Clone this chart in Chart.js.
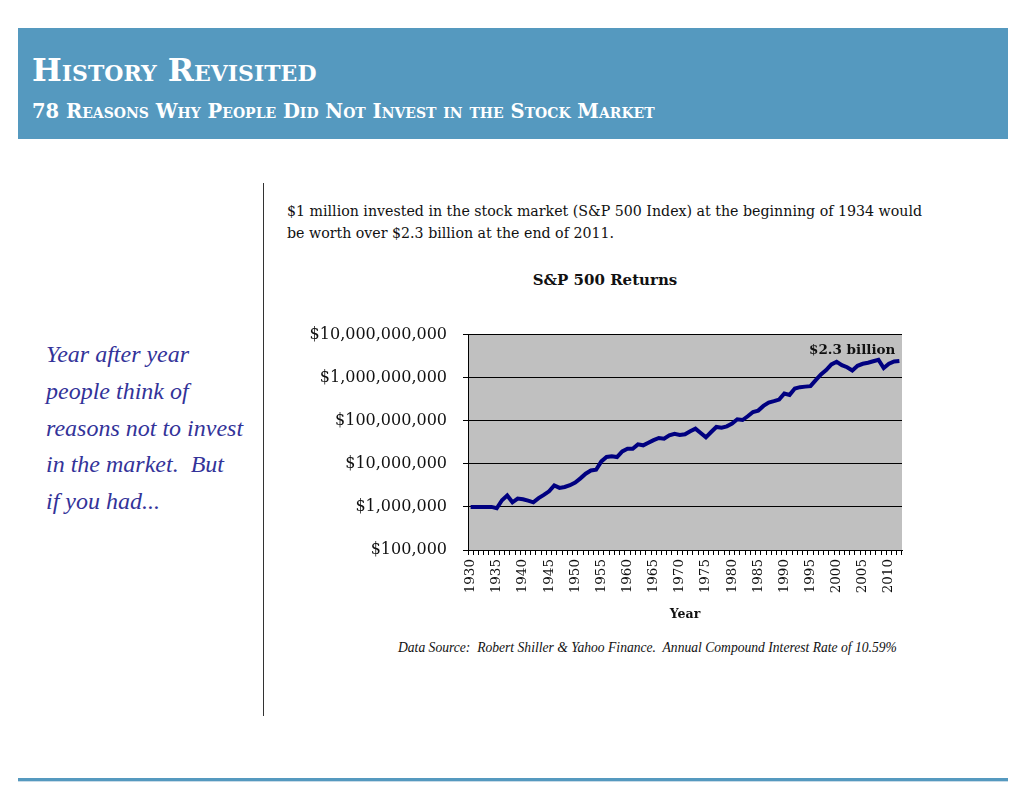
<!DOCTYPE html>
<html>
<head>
<meta charset="utf-8">
<script src="https://cdn.jsdelivr.net/npm/chart.js@4.4.0/dist/chart.umd.min.js"></script>
<style>
  body { margin: 0; background: #fff; width: 1031px; height: 794px; position: relative; overflow: hidden; font-family: "Liberation Serif", serif; }
  .band { position: absolute; left: 18px; top: 28px; width: 990px; height: 111px; background: #5599bf; }
  .title { position: absolute; left: 14px; top: 23px; color: #fff; font-family: "DejaVu Serif", serif; font-weight: bold; font-variant: small-caps; font-size: 31.5px; }
  .subtitle { position: absolute; left: 14px; top: 72px; color: #fff; font-family: "DejaVu Serif", serif; font-weight: bold; font-variant: small-caps; font-size: 19.5px; }
  .vline { position: absolute; left: 263px; top: 183px; width: 1px; height: 533px; background: #333; }
  .intro { position: absolute; left: 287px; top: 200px; width: 650px; font-family: "DejaVu Serif", serif; font-size: 14.2px; line-height: 22px; color: #111; }
  .ctitle { position: absolute; left: 480px; width: 250px; top: 271px; text-align: center; font-family: "DejaVu Serif", serif; font-size: 15px; font-weight: bold; color: #111; }
  .quote { position: absolute; left: 46px; top: 336px; font-style: italic; font-size: 24px; line-height: 36.8px; color: #333399; }
  .source { position: absolute; left: 398px; top: 640px; font-style: italic; font-size: 13.6px; color: #111; }
  .hline { position: absolute; left: 18px; top: 778px; width: 990px; height: 3px; background: #5599bf; border-bottom: 1px solid #c8dbe8; }
  #wrap { position: absolute; left: 300px; top: 309px; width: 620px; height: 315px; }
</style>
</head>
<body>
<div class="band">
  <div class="title">History Revisited</div>
  <div class="subtitle">78 Reasons Why People Did Not Invest in the Stock Market</div>
</div>
<div class="vline"></div>
<div class="intro">$1 million invested in the stock market (S&amp;P 500 Index) at the beginning of 1934 would be worth over $2.3 billion at the end of 2011.</div>
<div class="ctitle">S&amp;P 500 Returns</div>
<div class="quote">Year after year<br>people think of<br>reasons not to invest<br>in the market.&nbsp; But<br>if you had...</div>
<div class="source">Data Source:&nbsp; Robert Shiller &amp; Yahoo Finance.&nbsp; Annual Compound Interest Rate of 10.59%</div>
<div class="hline"></div>
<div id="wrap"><canvas id="myChart"></canvas></div>
<script>
// years on the category axis (value at start of each year)
const years = [];
for (let y = 1930; y <= 2012; y++) years.push(y);

// portfolio value, in millions of dollars
const valueMillions = [
  1.00, 1.00, 1.00, 1.00, 1.00, 0.93, 1.43, 1.84, 1.28, 1.56,   // 1930-1939
  1.51, 1.40, 1.28, 1.60, 1.90, 2.30, 3.14, 2.77, 2.90, 3.20,   // 1940-1949
  3.69, 4.60, 5.90, 7.00, 7.30, 11.4, 14.4, 14.9, 14.4, 19.5,   // 1950-1959
  22.4, 22.4, 28.3, 26.9, 31.0, 35.5, 39.8, 38.4, 45.8, 50.0,   // 1960-1969
  46.7, 48.4, 56.9, 65.6, 52.0, 41.2, 54.8, 71.8, 69.2, 74.3,   // 1970-1979
  85.7, 108, 104, 127, 160, 172, 221, 264, 285, 310,            // 1980-1989
  429, 399, 560, 602, 620, 635, 877, 1190, 1500, 2030,          // 1990-1999
  2340, 1960, 1750, 1470, 1890, 2100, 2220, 2400, 2610, 1670,   // 2000-2009
  2100, 2380, 2450                                              // 2010-2012
];
const values = valueMillions.map(m => m * 1e6);

const yTicks = [1e5, 1e6, 1e7, 1e8, 1e9, 1e10];
const endLabel = '$2.3 billion';

const serif = '"DejaVu Serif", serif';

// grey plot background + end label
const plotBg = {
  id: 'plotBg',
  beforeDraw(chart) {
    const a = chart.chartArea, c = chart.ctx;
    c.save();
    c.fillStyle = '#c0c0c0';
    c.fillRect(a.left, a.top, a.right - a.left, a.bottom - a.top);
    c.restore();
  },
  afterDatasetsDraw(chart) {
    const c = chart.ctx;
    const last = values.length - 1;
    const x = chart.scales.x.getPixelForValue(last);
    const y = chart.scales.y.getPixelForValue(values[last]);
    c.save();
    c.font = 'bold 13.5px ' + serif;
    c.fillStyle = '#111';
    c.textAlign = 'right';
    c.textBaseline = 'middle';
    c.fillText(endLabel, x - 4, y - 10);
    c.restore();
  }
};

const ctx = document.getElementById('myChart');
new Chart(ctx, {
  type: 'line',
  data: {
    labels: years,
    datasets: [{
      data: values,
      borderColor: '#000080',
      borderWidth: 4,
      pointRadius: 0,
      tension: 0,
      fill: false
    }]
  },
  options: {
    responsive: true,
    maintainAspectRatio: false,
    animation: false,
    layout: { padding: { top: 4, right: 18, left: 0, bottom: 0 } },
    plugins: { legend: { display: false }, tooltip: { enabled: false } },
    scales: {
      y: {
        type: 'logarithmic',
        min: 1e5,
        max: 1e10,
        afterBuildTicks: s => { s.ticks = yTicks.map(v => ({ value: v })); },
        afterFit: s => { s.width = 168; },
        border: { color: '#000', width: 1 },
        grid: { color: '#000', lineWidth: 1, tickLength: 5 },
        ticks: {
          padding: 16,
          color: '#111',
          font: { family: serif, size: 16 },
          callback: v => '$' + Number(v).toLocaleString('en-US')
        }
      },
      x: {
        type: 'category',
        offset: true,
        afterFit: s => { s.height = 74; },
        border: { color: '#000', width: 1 },
        grid: { display: true, drawOnChartArea: false, offset: true, color: '#000', tickLength: 5 },
        ticks: {
          autoSkip: false,
          minRotation: 90,
          maxRotation: 90,
          padding: 4,
          color: '#111',
          font: { family: serif, size: 13.5 },
          callback: (v, i) => (years[i] % 5 === 0 ? String(years[i]) : '')
        },
        title: { display: true, text: 'Year', color: '#111', font: { family: serif, size: 12.5, weight: 'bold' }, padding: { top: 0, bottom: 2 } }
      }
    }
  },
  plugins: [plotBg]
});
</script>
</body>
</html>
